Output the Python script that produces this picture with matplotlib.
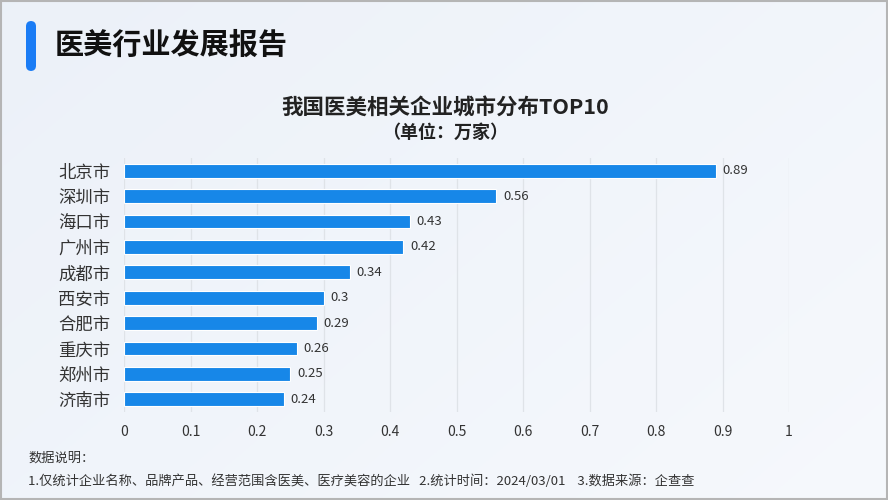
import matplotlib.pyplot as plt
import numpy as np
from matplotlib.patches import FancyBboxPatch

plt.rcParams['font.family'] = ['Noto Sans CJK SC', 'DejaVu Sans']

cities = ["北京市", "深圳市", "海口市", "广州市", "成都市", "西安市", "合肥市", "重庆市", "郑州市", "济南市"]
counts = [0.89, 0.56, 0.43, 0.42, 0.34, 0.3, 0.29, 0.26, 0.25, 0.24]
xticks = [0, 0.1, 0.2, 0.3, 0.4, 0.5, 0.6, 0.7, 0.8, 0.9, 1]
xtick_labels = ["0", "0.1", "0.2", "0.3", "0.4", "0.5", "0.6", "0.7", "0.8", "0.9", "1"]

fig = plt.figure(figsize=(8.88, 5), dpi=100)

# background gradient
bg = fig.add_axes([0, 0, 1, 1], zorder=-10)
grad = np.linspace(0, 1, 256)
gx, gy = np.meshgrid(grad, grad)
c1 = np.array([0.925, 0.945, 0.975])
c2 = np.array([0.965, 0.975, 0.99])
t = (0.6 * gx + 0.4 * (1 - gy))[..., None]
bg.imshow(c1 * (1 - t) + c2 * t, extent=[0, 1, 0, 1], aspect="auto", origin="lower")
bg.set_xlim(0, 1)
bg.set_ylim(0, 1)
bg.axis("off")
bg.add_patch(plt.Rectangle((0.001, 0.002), 0.998, 0.996, fill=False, ec="#b5b5b5", lw=1.5))

# header
bg.add_patch(FancyBboxPatch((26 / 888, 1 - 71 / 500), 10 / 888, 50 / 500,
                            boxstyle="round,pad=0,rounding_size=0.006",
                            fc="#1a7cf5", ec="none", mutation_aspect=888 / 500))
fig.text(55 / 888, 1 - 45 / 500, "医美行业发展报告", fontsize=21, fontweight="bold",
         color="#111111", va="center", ha="left")

# chart titles
fig.text(445 / 888, 1 - 108 / 500, "我国医美相关企业城市分布TOP10", fontsize=15.5,
         fontweight="bold", color="#222222", ha="center", va="center")
fig.text(445 / 888, 1 - 132 / 500, "（单位：万家）", fontsize=13,
         fontweight="bold", color="#222222", ha="center", va="center")

ax = fig.add_axes([124 / 888, 1 - 412 / 500, 665 / 888, 254 / 500])
ax.patch.set_alpha(0)
y = np.arange(len(cities))
bars = ax.barh(y, counts, height=0.55, color="#1787e8", edgecolor="white", linewidth=0.8, zorder=3)
for yi, v in zip(y, counts):
    ax.text(v + 0.01, yi, f"{v:g}", va="center", ha="left", fontsize=9.5, color="#333333")

ax.set_ylim(len(cities) - 0.5, -0.5)
ax.set_xlim(0, 1)
ax.set_yticks(y)
ax.set_yticklabels(cities, fontsize=12.5, color="#333333")
ax.set_xticks(xticks)
ax.set_xticklabels(xtick_labels, fontsize=10, color="#333333")
ax.tick_params(axis="both", length=0)
ax.tick_params(axis="x", pad=9)
ax.tick_params(axis="y", pad=10)
ax.grid(axis="x", color="#dfe3e8", lw=0.9, zorder=0)
for s in ax.spines.values():
    s.set_visible(False)

# footnotes
fig.text(28 / 888, 1 - 458 / 500, "数据说明：", fontsize=9.5, color="#333333", va="center")
fig.text(28 / 888, 1 - 481 / 500,
         "1.仅统计企业名称、品牌产品、经营范围含医美、医疗美容的企业   2.统计时间：2024/03/01    3.数据来源：企查查",
         fontsize=9.5, color="#333333", va="center")

fig.savefig("out.png", dpi=100)
